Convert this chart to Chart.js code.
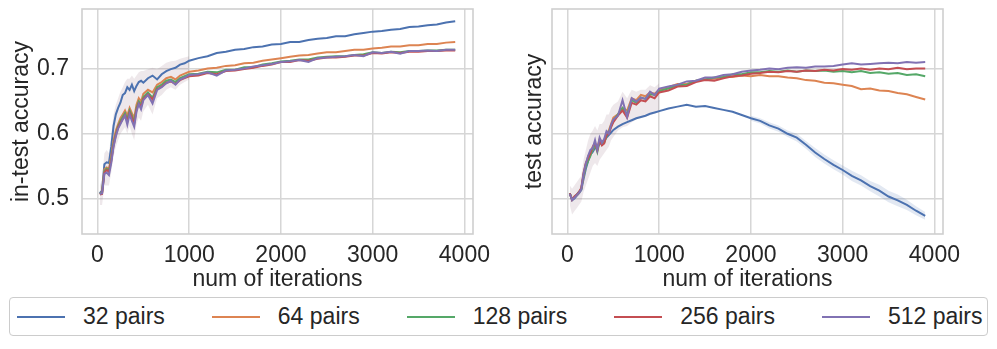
<!DOCTYPE html>
<html>
<head>
<meta charset="utf-8">
<script src="https://cdn.jsdelivr.net/npm/chart.js@4.4.1/dist/chart.umd.min.js"></script>
<style>
  html, body { margin: 0; padding: 0; background: #ffffff; }
  body { width: 997px; height: 349px; position: relative; overflow: hidden; font-family: "Liberation Sans", Arial, sans-serif; }
  #c1 { position: absolute; left: 0; top: 0; }
  #c2 { position: absolute; left: 497px; top: 0; }
  #legend {
    position: absolute; left: 9px; top: 297px; width: 979px; height: 39px;
    border: 1.3px solid #cccccc; border-radius: 4px; box-sizing: border-box;
    display: flex; align-items: center; padding-left: 7px; gap: 47px;
    color: #262626; font-size: 23px; z-index: 2; background: #fff;
  }
  .item { display: flex; align-items: center; white-space: nowrap; }
  .swatch { width: 48px; height: 2px; margin-right: 18px; }
</style>
</head>
<body>
<canvas id="c1" width="497" height="296"></canvas>
<canvas id="c2" width="500" height="296"></canvas>
<div id="legend"></div>
<script>
// ---- data ----
const iterations = [25,50,75,100,125,150,175,200,225,250,275,300,325,350,375,400,425,450,475,500,550,600,650,700,750,800,850,900,950,1000,1100,1200,1300,1400,1500,1600,1700,1800,1900,2000,2100,2200,2300,2400,2500,2600,2700,2800,2900,3000,3100,3200,3300,3400,3500,3600,3700,3800,3900];
const seriesNames = ["32 pairs","64 pairs","128 pairs","256 pairs","512 pairs"];
const seriesColors = ["#4C72B0","#DD8452","#55A868","#C44E52","#8172B3"];
const xTickValues = [0,1000,2000,3000,4000];
const yTickValues = [0.5,0.6,0.7];

// in-test accuracy (left panel)
const inTest32 = [0.508,0.512,0.553,0.556,0.555,0.580,0.612,0.630,0.640,0.648,0.660,0.663,0.672,0.668,0.676,0.666,0.674,0.680,0.682,0.679,0.686,0.690,0.684,0.692,0.697,0.700,0.702,0.707,0.709,0.713,0.717,0.720,0.725,0.727,0.730,0.731,0.734,0.735,0.738,0.739,0.742,0.742,0.745,0.747,0.748,0.751,0.751,0.754,0.756,0.758,0.759,0.761,0.762,0.765,0.766,0.768,0.769,0.772,0.774];
const inTest64 = [0.507,0.510,0.545,0.548,0.546,0.565,0.590,0.605,0.615,0.624,0.630,0.636,0.628,0.640,0.632,0.624,0.645,0.655,0.650,0.662,0.668,0.664,0.676,0.680,0.686,0.688,0.684,0.690,0.693,0.696,0.698,0.701,0.702,0.705,0.706,0.709,0.710,0.713,0.715,0.717,0.719,0.721,0.722,0.724,0.726,0.726,0.728,0.730,0.730,0.732,0.733,0.735,0.735,0.737,0.737,0.739,0.739,0.741,0.742];
const inTest128 = [0.507,0.509,0.542,0.546,0.543,0.560,0.585,0.600,0.612,0.620,0.626,0.632,0.622,0.636,0.628,0.618,0.640,0.650,0.645,0.657,0.664,0.656,0.672,0.676,0.682,0.684,0.680,0.686,0.689,0.692,0.693,0.696,0.695,0.699,0.699,0.703,0.703,0.707,0.709,0.712,0.713,0.715,0.715,0.718,0.719,0.720,0.720,0.722,0.723,0.726,0.725,0.727,0.726,0.728,0.728,0.729,0.729,0.730,0.730];
const inTest256 = [0.506,0.507,0.540,0.544,0.541,0.558,0.582,0.598,0.610,0.617,0.623,0.629,0.619,0.633,0.625,0.615,0.637,0.647,0.642,0.654,0.661,0.653,0.669,0.673,0.679,0.681,0.677,0.683,0.686,0.689,0.690,0.694,0.692,0.697,0.698,0.700,0.702,0.705,0.707,0.711,0.711,0.714,0.713,0.716,0.718,0.718,0.719,0.721,0.721,0.725,0.724,0.726,0.725,0.727,0.727,0.728,0.728,0.729,0.729];
const inTest512 = [0.507,0.508,0.538,0.540,0.536,0.555,0.580,0.596,0.608,0.615,0.622,0.628,0.614,0.630,0.620,0.611,0.634,0.646,0.638,0.652,0.660,0.647,0.668,0.672,0.678,0.682,0.676,0.684,0.687,0.691,0.692,0.695,0.690,0.698,0.699,0.701,0.704,0.706,0.708,0.711,0.712,0.714,0.711,0.717,0.718,0.719,0.720,0.722,0.720,0.726,0.725,0.727,0.724,0.728,0.728,0.729,0.728,0.730,0.730];

// test accuracy (right panel)
const test32 = [0.508,0.497,0.500,0.504,0.508,0.513,0.530,0.546,0.558,0.568,0.572,0.578,0.580,0.584,0.586,0.590,0.594,0.598,0.602,0.606,0.611,0.615,0.618,0.621,0.624,0.626,0.628,0.631,0.633,0.635,0.639,0.642,0.645,0.642,0.643,0.640,0.637,0.634,0.629,0.624,0.620,0.613,0.608,0.600,0.594,0.583,0.571,0.561,0.552,0.544,0.535,0.528,0.519,0.512,0.503,0.497,0.490,0.481,0.473];
const test64 = [0.507,0.499,0.502,0.505,0.509,0.515,0.535,0.552,0.565,0.572,0.575,0.585,0.578,0.592,0.588,0.590,0.600,0.605,0.615,0.625,0.630,0.640,0.636,0.655,0.652,0.660,0.658,0.664,0.662,0.668,0.672,0.677,0.677,0.682,0.684,0.685,0.688,0.688,0.690,0.689,0.691,0.689,0.689,0.687,0.686,0.683,0.682,0.679,0.678,0.676,0.674,0.669,0.670,0.667,0.666,0.663,0.661,0.657,0.653];
const test128 = [0.508,0.499,0.502,0.506,0.510,0.514,0.536,0.550,0.558,0.566,0.576,0.584,0.572,0.588,0.584,0.586,0.596,0.602,0.612,0.620,0.630,0.640,0.630,0.652,0.648,0.656,0.654,0.661,0.660,0.666,0.670,0.675,0.676,0.682,0.684,0.687,0.688,0.692,0.692,0.695,0.695,0.697,0.696,0.698,0.696,0.698,0.697,0.698,0.696,0.697,0.695,0.697,0.694,0.695,0.693,0.694,0.691,0.692,0.689];
const test256 = [0.508,0.498,0.503,0.506,0.510,0.516,0.540,0.555,0.562,0.570,0.580,0.586,0.574,0.590,0.582,0.585,0.598,0.600,0.610,0.618,0.628,0.636,0.625,0.648,0.645,0.652,0.650,0.658,0.655,0.664,0.667,0.673,0.674,0.680,0.683,0.682,0.686,0.689,0.690,0.693,0.694,0.696,0.695,0.697,0.696,0.698,0.697,0.699,0.698,0.700,0.699,0.701,0.699,0.701,0.700,0.702,0.700,0.701,0.701];
const test512 = [0.507,0.498,0.501,0.505,0.509,0.514,0.538,0.554,0.566,0.575,0.578,0.590,0.575,0.594,0.586,0.592,0.604,0.600,0.614,0.622,0.628,0.652,0.626,0.655,0.650,0.656,0.654,0.665,0.660,0.670,0.673,0.676,0.681,0.682,0.687,0.687,0.691,0.692,0.696,0.698,0.699,0.701,0.700,0.702,0.703,0.702,0.704,0.704,0.705,0.707,0.709,0.707,0.708,0.709,0.710,0.709,0.711,0.710,0.711];

// confidence bands (estimated): early-phase shared band and late band of 32 pairs (test)
const earlyIterations = [25,50,75,100,125,150,175,200,225,250,275,300,325,350,375,400,425,450,475,500,550,600,650,700,750,800,850,900,950,1000];
const inTestBandLow  = [0.490,0.490,0.520,0.520,0.520,0.540,0.565,0.580,0.590,0.600,0.605,0.610,0.600,0.612,0.600,0.590,0.615,0.625,0.620,0.635,0.645,0.630,0.655,0.660,0.668,0.672,0.668,0.676,0.680,0.684];
const inTestBandHigh = [0.520,0.530,0.570,0.575,0.570,0.600,0.630,0.645,0.655,0.665,0.672,0.680,0.685,0.685,0.690,0.685,0.690,0.695,0.697,0.697,0.700,0.702,0.700,0.705,0.710,0.712,0.713,0.716,0.718,0.720];
const testBandLow  = [0.490,0.475,0.480,0.485,0.490,0.495,0.510,0.520,0.530,0.540,0.550,0.555,0.550,0.560,0.565,0.570,0.575,0.580,0.590,0.595,0.605,0.610,0.612,0.618,0.622,0.624,0.626,0.629,0.631,0.633];
const testBandHigh = [0.520,0.515,0.520,0.525,0.530,0.535,0.560,0.575,0.590,0.600,0.605,0.612,0.605,0.615,0.615,0.620,0.630,0.630,0.640,0.645,0.650,0.665,0.655,0.668,0.665,0.668,0.668,0.675,0.672,0.678];
const lateIterations = [2000,2100,2200,2300,2400,2500,2600,2700,2800,2900,3000,3100,3200,3300,3400,3500,3600,3700,3800,3900];
const test32BandLow  = [0.620,0.616,0.608,0.603,0.595,0.588,0.577,0.564,0.554,0.545,0.537,0.527,0.520,0.511,0.503,0.494,0.488,0.482,0.474,0.467];
const test32BandHigh = [0.628,0.624,0.618,0.613,0.605,0.600,0.589,0.578,0.568,0.559,0.551,0.543,0.536,0.527,0.521,0.512,0.506,0.498,0.488,0.479];

const leftSeries = [inTest32, inTest64, inTest128, inTest256, inTest512];
const rightSeries = [test32, test64, test128, test256, test512];

// ---- chart setup ----
const FONT = "'Liberation Sans', Arial, sans-serif";
const TEXT = "#262626";
const GRID = "#d6d6d6";

const framePlugin = {
  id: 'frame',
  beforeDatasetsDraw(chart) {
    const {ctx, chartArea: a} = chart;
    ctx.save();
    ctx.strokeStyle = '#cfcfcf';
    ctx.lineWidth = 1.6;
    ctx.strokeRect(a.left, a.top, a.right - a.left, a.bottom - a.top);
    ctx.restore();
  }
};

function pts(xs, ys) { return xs.map((x, j) => ({x: x, y: ys[j]})); }

function bandDatasets(xs, low, high, color) {
  return [
    { label: 'band-low', data: pts(xs, low), borderWidth: 0, borderColor: 'rgba(0,0,0,0)',
      pointRadius: 0, fill: false, order: 20 },
    { label: 'band-high', data: pts(xs, high), borderWidth: 0, borderColor: 'rgba(0,0,0,0)',
      backgroundColor: color, pointRadius: 0, fill: '-1', order: 20 }
  ];
}

function makeDatasets(arrs, bands) {
  const lines = arrs.map((arr, i) => ({
    label: seriesNames[i],
    data: pts(iterations, arr),
    borderColor: seriesColors[i],
    backgroundColor: seriesColors[i],
    borderWidth: 2,
    pointRadius: 0,
    tension: 0,
    fill: false,
    order: 4 - i
  }));
  let out = lines;
  bands.forEach(b => { out = out.concat(bandDatasets(b[0], b[1], b[2], b[3])); });
  return out;
}

function makeChart(id, arrs, bands, opts) {
  return new Chart(document.getElementById(id), {
    type: 'line',
    data: { datasets: makeDatasets(arrs, bands) },
    plugins: [framePlugin],
    options: {
      responsive: false,
      animation: false,
      devicePixelRatio: 1,
      layout: { padding: { top: 9, right: opts.padRight, left: 0, bottom: 0 } },
      plugins: { legend: { display: false }, tooltip: { enabled: false } },
      scales: {
        x: {
          type: 'linear',
          min: -169, max: 4094,
          afterBuildTicks: s => { s.ticks = xTickValues.map(v => ({value: v})); },
          afterFit: s => { s.height = 62; s.paddingLeft = 0; s.paddingRight = 0; },
          grid: { color: GRID, lineWidth: 1.5, drawTicks: false },
          border: { display: false },
          ticks: { color: TEXT, font: { family: FONT, size: 23 }, padding: 8, maxRotation: 0,
                   callback: v => String(v) },
          title: { display: true, text: 'num of iterations', color: TEXT,
                   font: { family: FONT, size: 23 }, padding: { top: 0, bottom: 3 } }
        },
        y: {
          type: 'linear',
          min: 0.445, max: 0.793,
          afterBuildTicks: s => { s.ticks = yTickValues.map(v => ({value: v})); },
          afterFit: s => { s.width = opts.yWidth; s.paddingTop = 0; s.paddingBottom = 0; },
          grid: { color: GRID, lineWidth: 1.5, drawTicks: false },
          border: { display: false },
          ticks: { display: opts.showYTicks, color: TEXT, font: { family: FONT, size: 23 }, padding: 13,
                   callback: v => v.toFixed(1) },
          title: { display: true, text: opts.yTitle, color: TEXT,
                   font: { family: FONT, size: 23 }, padding: { top: opts.titlePad, bottom: 0 } }
        }
      }
    }
  });
}

const BAND_MIX = 'rgba(150,115,130,0.16)';
const BAND_BLUE = 'rgba(76,114,176,0.16)';

makeChart('c1', leftSeries,
  [[earlyIterations, inTestBandLow, inTestBandHigh, BAND_MIX]],
  { padRight: 24, yWidth: 82, showYTicks: true, yTitle: 'in-test accuracy', titlePad: 8 });
makeChart('c2', rightSeries,
  [[earlyIterations, testBandLow, testBandHigh, BAND_MIX], [lateIterations, test32BandLow, test32BandHigh, BAND_BLUE]],
  { padRight: 54, yWidth: 55, showYTicks: false, yTitle: 'test accuracy', titlePad: 24 });

// ---- legend (HTML) ----
const legend = document.getElementById('legend');
seriesNames.forEach((name, i) => {
  const item = document.createElement('div');
  item.className = 'item';
  const sw = document.createElement('div');
  sw.className = 'swatch';
  sw.style.background = seriesColors[i];
  const tx = document.createElement('span');
  tx.textContent = name;
  item.appendChild(sw);
  item.appendChild(tx);
  legend.appendChild(item);
});
</script>
</body>
</html>
